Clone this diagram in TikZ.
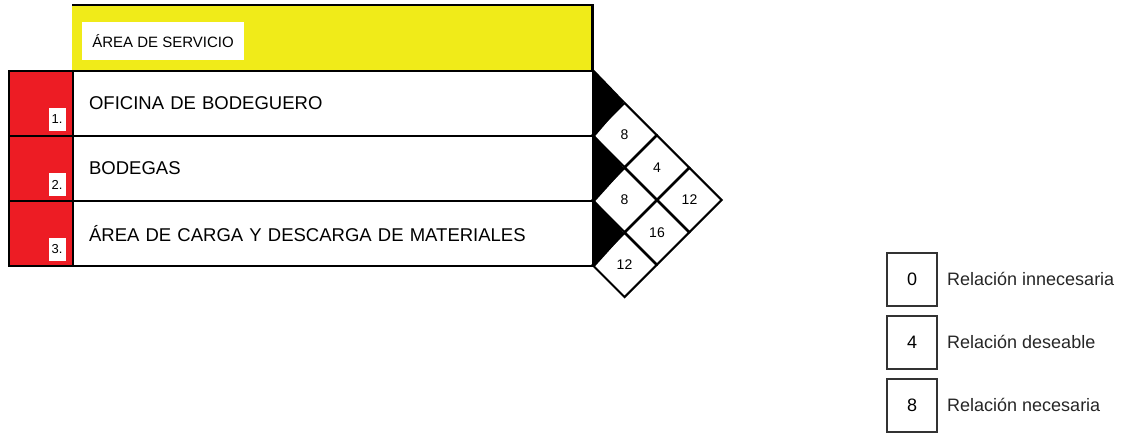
\documentclass[tikz,border=0pt]{standalone}
\usepackage{fontspec}
\setmainfont{Liberation Sans}
\usetikzlibrary{shapes.geometric}
\definecolor{areayellow}{RGB}{240,235,25}
\definecolor{areared}{RGB}{237,28,36}
\begin{document}
\begin{tikzpicture}[x = 1pt, y = -1pt,
        rowbox/.style={rectangle, draw, line width=2.2pt, minimum width=520pt, minimum height=65pt, inner xsep=16pt, text width=488pt, align=left, anchor=north west, font=\fontsize{18.5}{20}\selectfont},
        redbox/.style={rectangle, draw, line width=2.2pt, fill=areared, minimum width=64pt, minimum height=65pt, anchor=north west},
        numbox/.style={rectangle, fill=white, minimum width=17pt, minimum height=23pt, inner sep=0pt, font=\fontsize{13}{14}\selectfont},
        cell/.style={diamond, draw, line width=2pt, fill=white, aspect=1, minimum width=65pt, minimum height=65pt, inner sep=0pt, font=\fontsize{14}{15}\selectfont},
        legbox/.style={rectangle, draw=black!80, line width=2pt, minimum width=50pt, minimum height=53pt, font=\fontsize{18}{20}\selectfont},
        legtext/.style={anchor=west, inner sep=0pt, text=black!85, font=\fontsize{18}{20}\selectfont}]

        \useasboundingbox (0, 0) rectangle (1132, 433);

        % header
        \node[rectangle, fill=areayellow, minimum width=520pt, minimum height=65pt, anchor=north west] at (72, 5) (hdr) {};
        \draw[line width=2.2pt] (hdr.north west) -- (hdr.north east) -- (hdr.south east);
        \node[rectangle, fill=white, minimum width=162pt, minimum height=38pt, font=\fontsize{15}{17}\selectfont] at (163, 41) (hdrlabel) {ÁREA DE SERVICIO};

        % rows
        \node[redbox] at (8, 70) (red1) {};
        \node[redbox] at (8, 135) (red2) {};
        \node[redbox] at (8, 200) (red3) {};

        \node[rowbox] at (72, 70) (row1) {OFICINA DE BODEGUERO};
        \node[rowbox] at (72, 135) (row2) {BODEGAS};
        \node[rowbox] at (72, 200) (row3) {ÁREA DE CARGA Y DESCARGA DE MATERIALES};

        \node[numbox] at (57, 119.5) (num1) {1.};
        \node[numbox] at (57, 184.5) (num2) {2.};
        \node[numbox] at (57, 249.5) (num3) {3.};

        % relation cells
        \node[cell] at (624.5, 135) (c12) {8};
        \node[cell] at (657, 167.5) (c23) {4};
        \node[cell] at (624.5, 200) (c14) {8};
        \node[cell] at (689.5, 200) (c34) {12};
        \node[cell] at (657, 232.5) (c25) {16};
        \node[cell] at (624.5, 265) (c16) {12};

        \fill (row1.north east) -- (c12.north) -- (row1.south east) -- cycle;
        \fill (row2.north east) -- (c12.south) -- (row2.south east) -- cycle;
        \fill (row3.north east) -- (c14.south) -- (row3.south east) -- cycle;

        % legend
        \node[legbox] at (912, 279) (leg0) {0};
        \node[legbox] at (912, 342) (leg4) {4};
        \node[legbox] at (912, 405) (leg8) {8};

        \node[legtext] at (947, 279) (txt0) {Relación innecesaria};
        \node[legtext] at (947, 342) (txt4) {Relación deseable};
        \node[legtext] at (947, 405) (txt8) {Relación necesaria};
        \end{tikzpicture}
\end{document}
